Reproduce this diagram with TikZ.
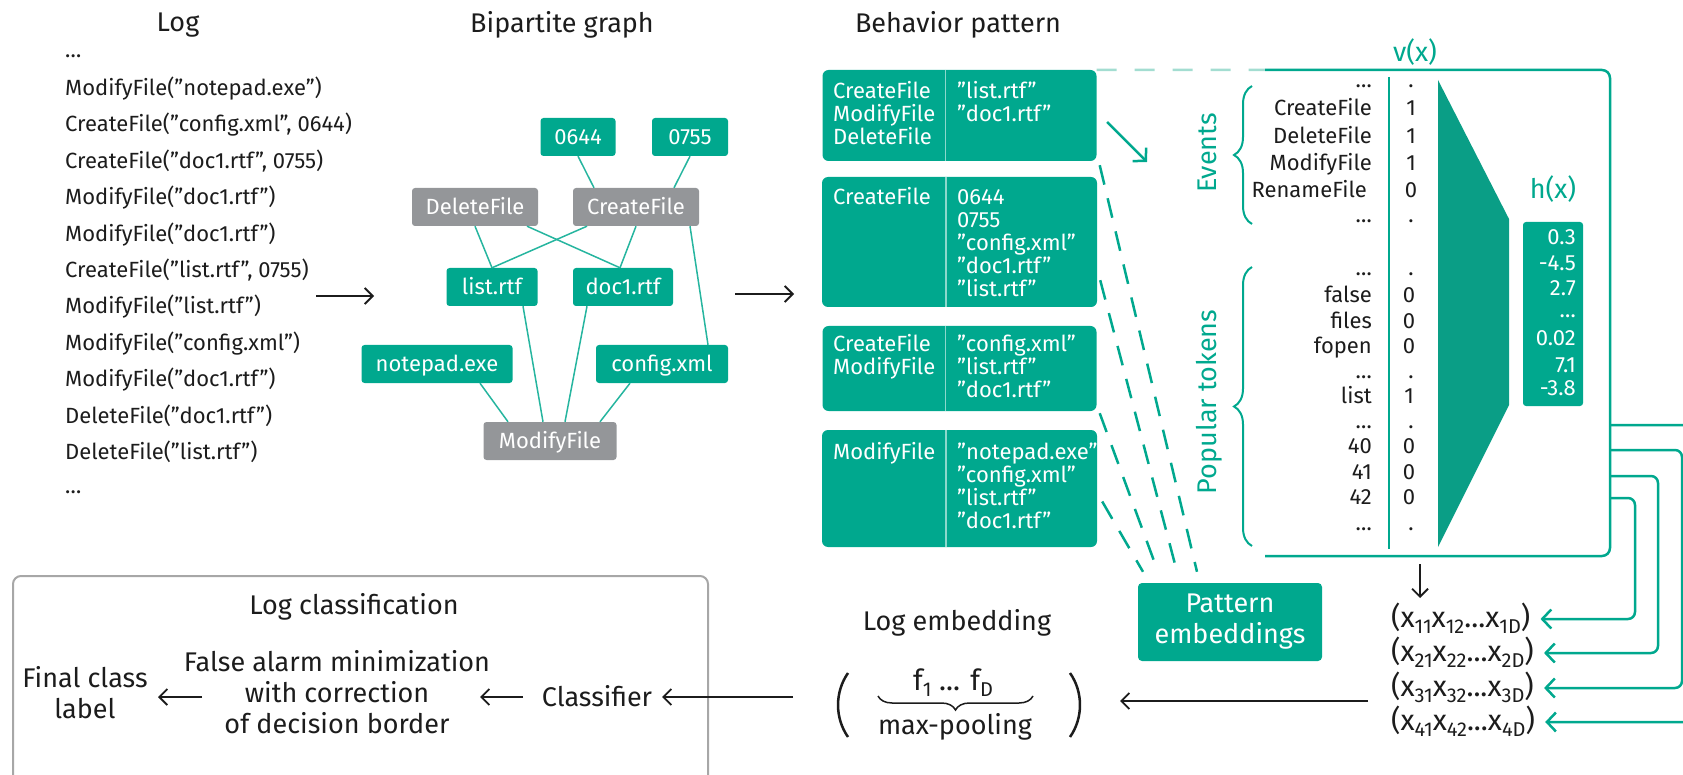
\documentclass[tikz,border=0pt]{standalone}
\usepackage{fontspec}
\setmainfont{Fira Sans}
\usetikzlibrary{arrows.meta,decorations.pathreplacing}
\definecolor{kteal}{HTML}{00A88E}
\definecolor{ktrap}{HTML}{0A9E86}
\definecolor{klite}{HTML}{A3DDD1}
\definecolor{kgray}{HTML}{949699}
\definecolor{kframe}{HTML}{A7A7A7}
\definecolor{ktext}{HTML}{1C1C1C}
\newcommand{\fmain}{\fontsize{22}{26}\selectfont}
\newcommand{\fbig}{\fontsize{27}{31}\selectfont}
\newcommand{\fvec}{\fontsize{29}{31}\selectfont}
\newcommand{\lowidx}[1]{\raisebox{-6pt}{\fontsize{20}{20}\selectfont #1}}
\begin{document}
\begin{tikzpicture}[x=1pt, y=-1pt,
  every node/.style={inner sep=0pt, text=ktext},
  txt/.style={font=\fmain, text height=15pt, text depth=0pt},
  lbl/.style={font=\fbig, text height=19pt, text depth=0pt},
  lblm/.style={font=\fbig, align=center},
  vlbl/.style={font=\fvec, text height=20pt, text depth=0pt},
  gbox/.style={txt, fill=kteal, text=white, rounded corners=3pt, minimum height=38pt},
  ebox/.style={gbox, fill=kgray},
  gedge/.style={draw=kteal!85, line width=1.5pt},
  pbox/.style={fill=kteal, rounded corners=6pt},
  ptxt/.style={txt, text=white, anchor=west},
  dlink/.style={draw=kteal, line width=2.5pt, dash pattern=on 20pt off 14pt},
  barrow/.style={draw=ktext, line width=1.8pt, -{Straight Barb[length=8pt,width=16pt]}},
  tarrow/.style={draw=kteal, line width=2.5pt, rounded corners=7pt,
    -{Straight Barb[length=9pt,width=19pt]}}]
  \clip (0,0) rectangle (1683,775);
  % Column titles
  \node[lbl] (tlog) at (178,22) {Log};
  \node[lbl] (tgraph) at (562,23) {Bipartite graph};
  \node[lbl] (tpat) at (958,23) {Behavior pattern};
  % Log entries
  \node[txt, anchor=west] (log0) at (65,50) {…};
  \node[txt, anchor=west] (log1) at (65,88) {ModifyFile(”notepad.exe”)};
  \node[txt, anchor=west] (log2) at (65,124.4) {CreateFile(”config.xml”, 0644)};
  \node[txt, anchor=west] (log3) at (65,160.8) {CreateFile(”doc1.rtf”, 0755)};
  \node[txt, anchor=west] (log4) at (65,197.2) {ModifyFile(”doc1.rtf”)};
  \node[txt, anchor=west] (log5) at (65,233.6) {ModifyFile(”doc1.rtf”)};
  \node[txt, anchor=west] (log6) at (65,270) {CreateFile(”list.rtf”, 0755)};
  \node[txt, anchor=west] (log7) at (65,306.4) {ModifyFile(”list.rtf”)};
  \node[txt, anchor=west] (log8) at (65,342.8) {ModifyFile(”config.xml”)};
  \node[txt, anchor=west] (log9) at (65,379.2) {ModifyFile(”doc1.rtf”)};
  \node[txt, anchor=west] (log10) at (65,415.6) {DeleteFile(”doc1.rtf”)};
  \node[txt, anchor=west] (log11) at (65,452) {DeleteFile(”list.rtf”)};
  \node[txt, anchor=west] (log12) at (65,485.5) {…};
  \coordinate (a1) at (316,296);
  \coordinate (a2) at (374,296);
  \draw[barrow] (a1) -- (a2);
  % Bipartite graph: events (gray) and arguments (teal)
  \node[gbox, minimum width=75pt] (n0644) at (578,137) {0644};
  \node[gbox, minimum width=76pt] (n0755) at (690,137) {0755};
  \node[ebox, minimum width=126pt] (delf) at (475,207) {DeleteFile};
  \node[ebox, minimum width=126pt] (crf) at (636,207) {CreateFile};
  \node[gbox, minimum width=91pt] (flist) at (492,287) {list.rtf};
  \node[gbox, minimum width=100pt] (fdoc) at (623,287) {doc1.rtf};
  \node[gbox, minimum width=151pt] (fnote) at (437,364) {notepad.exe};
  \node[gbox, minimum width=132pt] (fconf) at (662,364) {config.xml};
  \node[ebox, minimum width=133pt] (modf) at (550,441) {ModifyFile};
  \draw[gedge] (n0644.south) -- ([xshift=-42pt]crf.north);
  \draw[gedge] (n0755.south) -- ([xshift=38pt]crf.north);
  \draw[gedge] (delf.south) -- (flist.north);
  \draw[gedge] ([xshift=52pt]delf.south) -- ([xshift=-3pt]fdoc.north);
  \draw[gedge] ([xshift=-49pt]crf.south) -- (flist.north);
  \draw[gedge] (crf.south) -- ([xshift=-3pt]fdoc.north);
  \draw[gedge] ([xshift=54pt]crf.south) -- ([xshift=46pt]fconf.north);
  \draw[gedge] ([xshift=31pt]flist.south) -- ([xshift=-7pt]modf.north);
  \draw[gedge] ([xshift=-36pt]fdoc.south) -- ([xshift=15pt]modf.north);
  \draw[gedge] ([xshift=43pt]fnote.south) -- ([xshift=-42pt]modf.north);
  \draw[gedge] ([xshift=-32pt]fconf.south) -- ([xshift=50pt]modf.north);
  \coordinate (b1) at (735,294);
  \coordinate (b2) at (794,294);
  \draw[barrow] (b1) -- (b2);
  % Behavior patterns
  \node[pbox, minimum width=274pt, minimum height=91pt] (pat1) at (959.5,115.5) {};
  \node[pbox, minimum width=275pt, minimum height=130pt] (pat2) at (959.5,242) {};
  \node[pbox, minimum width=274pt, minimum height=85pt] (pat3) at (959.5,368.5) {};
  \node[pbox, minimum width=275pt, minimum height=117pt] (pat4) at (959.5,488.5) {};
  \draw[white!55!kteal, line width=1.5pt] ([xshift=123pt]pat1.north west) -- ([xshift=123pt]pat1.south west);
  \draw[white!55!kteal, line width=1.5pt] ([xshift=124pt]pat2.north west) -- ([xshift=124pt]pat2.south west);
  \draw[white!55!kteal, line width=1.5pt] ([xshift=123pt]pat3.north west) -- ([xshift=123pt]pat3.south west);
  \draw[white!55!kteal, line width=1.5pt] ([xshift=124pt]pat4.north west) -- ([xshift=124pt]pat4.south west);
  \node[ptxt] (p1a) at (833,91) {CreateFile};
  \node[ptxt] (p1b) at (833,114) {ModifyFile};
  \node[ptxt] (p1c) at (833,137) {DeleteFile};
  \node[ptxt] (p1d) at (957,91) {”list.rtf”};
  \node[ptxt] (p1e) at (957,114) {”doc1.rtf”};
  \node[ptxt] (p2a) at (833,197) {CreateFile};
  \node[ptxt] (p2b) at (957,197) {0644};
  \node[ptxt] (p2c) at (957,220) {0755};
  \node[ptxt] (p2d) at (957,243) {”config.xml”};
  \node[ptxt] (p2e) at (957,266) {”doc1.rtf”};
  \node[ptxt] (p2f) at (957,289) {”list.rtf”};
  \node[ptxt] (p3a) at (833,344) {CreateFile};
  \node[ptxt] (p3b) at (833,367) {ModifyFile};
  \node[ptxt] (p3c) at (957,344) {”config.xml”};
  \node[ptxt] (p3d) at (957,367) {”list.rtf”};
  \node[ptxt] (p3e) at (957,390) {”doc1.rtf”};
  \node[ptxt] (p4a) at (833,452) {ModifyFile};
  \node[ptxt] (p4b) at (957,452) {”notepad.exe”};
  \node[ptxt] (p4c) at (957,475) {”config.xml”};
  \node[ptxt] (p4d) at (957,498) {”list.rtf”};
  \node[ptxt] (p4e) at (957,521) {”doc1.rtf”};
  % Pattern embeddings and the dashed links
  \node[pbox, rounded corners=4pt, lblm, text=white, minimum width=184pt, minimum height=78pt] (pemb) at (1230,622) {Pattern\\embeddings};
  \draw[dlink] ([xshift=3pt,yshift=-4pt]pat1.south east) -- ([xshift=-33pt,yshift=11pt]pemb.north);
  \draw[dlink] ([xshift=3pt,yshift=27pt]pat2.south east) -- ([xshift=-53pt,yshift=11pt]pemb.north);
  \draw[dlink] ([xshift=3pt,yshift=-2pt]pat3.south east) -- ([xshift=-72pt,yshift=11pt]pemb.north);
  \draw[dlink] ([xshift=5pt,yshift=-13pt]pat4.east) -- ([xshift=-87pt,yshift=11pt]pemb.north);
  \coordinate (t1) at (1107,122);
  \coordinate (t2) at (1147,162);
  \draw[tarrow] (t1) -- (t2);
  % Feature vector v(x) and the network h(x)
  \coordinate (vtl) at (1265,70);
  \coordinate (vtr) at (1610,70);
  \coordinate (vbr) at (1610,556);
  \coordinate (vbl) at (1265,556);
  \draw[klite, line width=2.5pt, dash pattern=on 20pt off 18pt] (pat1.north east) -- (vtl);
  \draw[kteal, line width=2.5pt, rounded corners=8pt] (vtl) -- (vtr) -- (vbr) -- (vbl);
  \draw[kteal, line width=2.5pt] (1389,77) -- (1389,549);
  \fill[ktrap] (1438,80) -- (1509,219) -- (1509,405) -- (1438,547) -- cycle;
  \node[lbl, text=kteal] (vx) at (1415,52) {v(x)};
  \node[lbl, text=kteal] (hx) at (1553,189) {h(x)};
  \node[lbl, text=kteal, rotate=90] (evl) at (1207,153) {Events};
  \node[lbl, text=kteal, rotate=90] (ptl) at (1207,402) {Popular tokens};
  \draw[kteal, line width=2pt, decorate, decoration={brace, amplitude=18pt}] (1252,224) -- (1252,86);
  \draw[kteal, line width=2pt, decorate, decoration={brace, amplitude=18pt}] (1252,546) -- (1252,267);
  \node[txt, anchor=east] (e0) at (1372,80.5) {…};
  \node[txt, anchor=east] (e1) at (1372,108) {CreateFile};
  \node[txt, anchor=east] (e2) at (1372,136) {DeleteFile};
  \node[txt, anchor=east] (e3) at (1372,163) {ModifyFile};
  \node[txt, anchor=east] (e4) at (1367,190) {RenameFile};
  \node[txt, anchor=east] (e5) at (1372,215.5) {…};
  \node[txt] (e0v) at (1411,80.5) {.};
  \node[txt] (e1v) at (1411,108) {1};
  \node[txt] (e2v) at (1411,136) {1};
  \node[txt] (e3v) at (1411,163) {1};
  \node[txt] (e4v) at (1411,190) {0};
  \node[txt] (e5v) at (1411,215.5) {.};
  \node[txt, anchor=east] (k0) at (1372,268.5) {…};
  \node[txt, anchor=east] (k1) at (1372,295) {false};
  \node[txt, anchor=east] (k2) at (1372,321) {files};
  \node[txt, anchor=east] (k3) at (1372,346) {fopen};
  \node[txt, anchor=east] (k4) at (1372,370.5) {…};
  \node[txt, anchor=east] (k5) at (1372,396) {list};
  \node[txt, anchor=east] (k6) at (1372,420.5) {…};
  \node[txt, anchor=east] (k7) at (1372,446) {40};
  \node[txt, anchor=east] (k8) at (1372,472) {41};
  \node[txt, anchor=east] (k9) at (1372,497) {42};
  \node[txt, anchor=east] (k10) at (1372,522.5) {…};
  \node[txt] (k0v) at (1411,268.5) {.};
  \node[txt] (k1v) at (1409,295) {0};
  \node[txt] (k2v) at (1409,321) {0};
  \node[txt] (k3v) at (1409,346) {0};
  \node[txt] (k4v) at (1411,370.5) {.};
  \node[txt] (k5v) at (1409,396) {1};
  \node[txt] (k6v) at (1411,420.5) {.};
  \node[txt] (k7v) at (1409,446) {0};
  \node[txt] (k8v) at (1409,472) {0};
  \node[txt] (k9v) at (1409,497) {0};
  \node[txt] (k10v) at (1411,522.5) {.};
  \node[fill=kteal, rounded corners=3pt, minimum width=60pt, minimum height=184pt] (hbox) at (1553,314) {};
  \node[txt, text=white, anchor=east] (h1) at (1576,237) {0.3};
  \node[txt, text=white, anchor=east] (h2) at (1576,263) {-4.5};
  \node[txt, text=white, anchor=east] (h3) at (1576,288) {2.7};
  \node[txt, text=white, anchor=east] (h4) at (1576,310.5) {…};
  \node[txt, text=white, anchor=east] (h5) at (1576,338) {0.02};
  \node[txt, text=white, anchor=east] (h6) at (1576,365) {7.1};
  \node[txt, text=white, anchor=east] (h7) at (1576,388) {-3.8};
  % Pattern embedding vectors
  \coordinate (d1) at (1420,564);
  \coordinate (d2) at (1420,598);
  \draw[barrow] (d1) -- (d2);
  \node[vlbl, anchor=west] (xv1) at (1391,617) {(x\lowidx{11}x\lowidx{12}...x\lowidx{1D})};
  \node[vlbl, anchor=west] (xv2) at (1391,651) {(x\lowidx{21}x\lowidx{22}...x\lowidx{2D})};
  \node[vlbl, anchor=west] (xv3) at (1391,686) {(x\lowidx{31}x\lowidx{32}...x\lowidx{3D})};
  \node[vlbl, anchor=west] (xv4) at (1391,720) {(x\lowidx{41}x\lowidx{42}...x\lowidx{4D})};
  \coordinate (o1) at (1610,425);
  \coordinate (o2) at (1610,450);
  \coordinate (o3) at (1610,476);
  \coordinate (o4) at (1610,498);
  \draw[tarrow] (o4) -| (1635,619) -- ([xshift=10pt,yshift=-2pt]xv1.east);
  \draw[tarrow] (o3) -| (1658,653) -- ([xshift=10pt,yshift=-2pt]xv2.east);
  \draw[tarrow] (o2) -| (1682,688) -- ([xshift=10pt,yshift=-2pt]xv3.east);
  \draw[tarrow] (o1) -| (1705,722) -- ([xshift=10pt,yshift=-2pt]xv4.east);
  % Log embedding
  \node[lbl] (lemb) at (957,621) {Log embedding};
  \node[vlbl] (fvec) at (953,680) {f\lowidx{1} ... f\lowidx{D}};
  \draw[ktext, line width=1.5pt, decorate, decoration={brace, amplitude=14pt}] (1033,696) -- (878,696);
  \node[lbl] (mpool) at (955,725) {max-pooling};
  \draw[ktext, line width=2.5pt] (848,673) .. controls (834.7,692) and (834.7,718) .. (848,737);
  \draw[ktext, line width=2.5pt] (1070,673) .. controls (1083.3,692) and (1083.3,718) .. (1070,737);
  \coordinate (x1) at (1368,701);
  \coordinate (x2) at (1120,701);
  \draw[barrow] (x1) -- (x2);
  % Log classification
  \draw[kframe, line width=2pt, rounded corners=8pt] (13,576) rectangle (708,800);
  \node[lbl] (tcls) at (354,605) {Log classification};
  \node[lbl] (clf) at (597,697) {Classifier};
  \node[lblm] (fam) at (337,692) {False alarm minimization\\with correction\\of decision border};
  \node[lblm] (fin) at (85,692.5) {Final class\\label};
  \coordinate (l1) at (793,697);
  \coordinate (l2) at (662,697);
  \draw[barrow] (l1) -- (l2);
  \coordinate (c1) at (523,697);
  \coordinate (c2) at (480,697);
  \draw[barrow] (c1) -- (c2);
  \coordinate (f1) at (202,697);
  \coordinate (f2) at (158,697);
  \draw[barrow] (f1) -- (f2);
\end{tikzpicture}
\end{document}
